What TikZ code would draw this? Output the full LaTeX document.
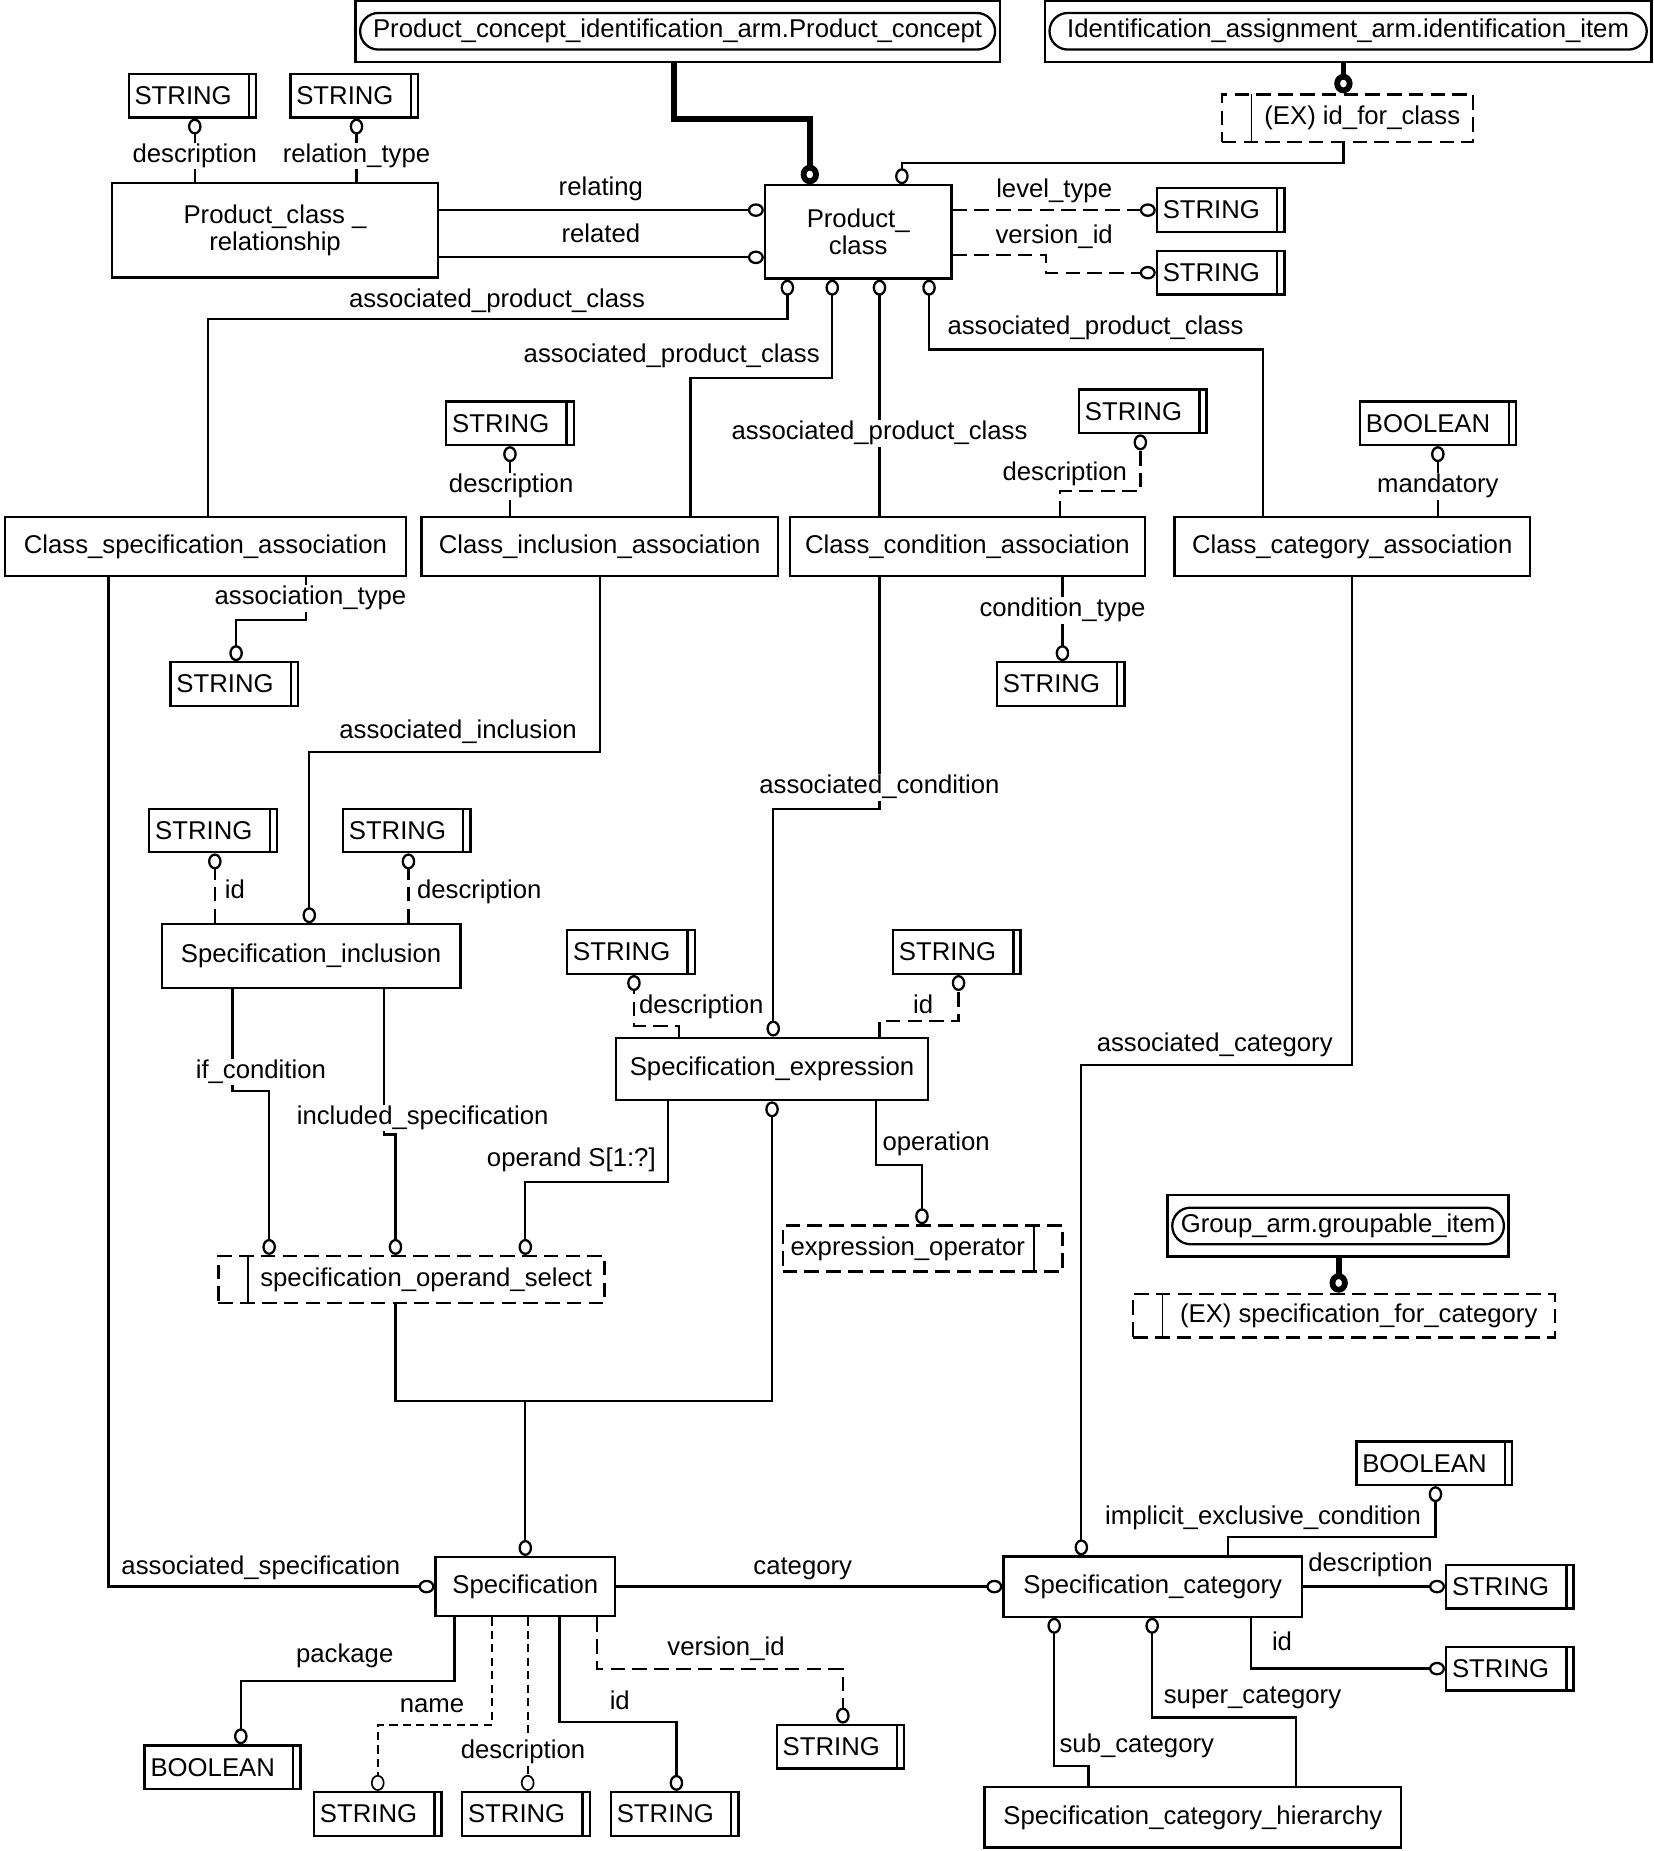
\documentclass[tikz,border=0pt]{standalone}
\usepackage{fontspec}
\setmainfont{Liberation Sans}
\usepackage{tikz}
\usetikzlibrary{arrows.meta, fit}

\begin{document}
\begin{tikzpicture}[x=0.02cm, y=-0.02cm,
    every node/.style={font=\fontsize{12.4}{13.2}\selectfont},
    entity/.style={draw, line width=1.1pt, align=center, inner sep=2pt},
    strbox/.style={draw, line width=1.1pt, minimum height=0.74cm, inner xsep=0.1cm, text width=1.96cm, align=left,
        path picture={\draw[line width=1.1pt] ([xshift=-0.12cm]path picture bounding box.north east) -- ([xshift=-0.12cm]path picture bounding box.south east);}},
    boolbox/.style={strbox, text width=2.44cm},
    selbox/.style={draw, line width=1.1pt, dash pattern=on 7pt off 3.5pt, minimum height=0.8cm, inner sep=2pt},
    selleft/.style={selbox,
        path picture={\draw[solid, line width=0.6pt] ([xshift=0.5cm]path picture bounding box.north west) -- ([xshift=0.5cm]path picture bounding box.south west);}},
    selright/.style={selbox,
        path picture={\draw[solid, line width=0.6pt] ([xshift=-0.48cm]path picture bounding box.north east) -- ([xshift=-0.48cm]path picture bounding box.south east);}},
    pill/.style={draw, line width=1.1pt, rounded corners=0.31cm, minimum height=0.62cm, inner sep=1pt},
    pillframe/.style={draw, line width=1.1pt, inner xsep=0.06cm, inner ysep=0.19cm},
    lbl/.style={fill=white, inner sep=0.5pt, text height=9pt, text depth=2.8pt},
    rel/.style={line width=1.1pt},
    optrel/.style={line width=1.1pt, dash pattern=on 7pt off 3.5pt},
    thinopt/.style={line width=0.8pt, dash pattern=on 4pt off 2.5pt},
    tipo/.style={-{Circle[length=2.7mm, width=2.3mm, fill=white]}},
    supline/.style={line width=2.8pt, -{Circle[length=3.3mm, width=3.1mm, fill=white]}}]

    \useasboundingbox (0,0) rectangle (1401,1568);

    \node[pill, minimum width=10.76cm] (pci) at (574,26.5) {Product\_concept\_identification\_arm.Product\_concept};
    \node[pillframe, fit=(pci)] (pcifr) {};
    \node[pill, minimum width=10.12cm] (iaa) at (1142,26.5) {Identification\_assignment\_arm.identification\_item};
    \node[pillframe, fit=(iaa)] (iaafr) {};
    \node[selleft, minimum width=4.26cm] (idfc) at (1141.5,100) {\hspace*{0.5cm}(EX) id\_for\_class};

    \node[entity, minimum width=3.16cm, minimum height=1.58cm] (pc) at (727,196.5) {Product\_\\class};
    \node[entity, minimum width=5.52cm, minimum height=1.6cm] (pcr) at (233,195) {Product\_class \_\\relationship};
    \node[strbox] (pcrdesc) at (163,81) {STRING};
    \node[strbox] (pcrtype) at (300,81) {STRING};
    \node[strbox] (pclevel) at (1034,178) {STRING};
    \node[strbox] (pcver) at (1034,231) {STRING};

    \node[entity, minimum width=6.8cm, minimum height=1cm] (csa) at (174,463) {Class\_specification\_association};
    \node[entity, minimum width=6.04cm, minimum height=1cm] (cia) at (508,463) {Class\_inclusion\_association};
    \node[entity, minimum width=6.02cm, minimum height=1cm] (ccona) at (819.5,463) {Class\_condition\_association};
    \node[entity, minimum width=6.02cm, minimum height=1cm] (ccata) at (1145.5,463) {Class\_category\_association};
    \node[strbox] (ciadesc) at (432,358.5) {STRING};
    \node[strbox] (ccondesc) at (968,348.5) {STRING};
    \node[boolbox] (ccatmand) at (1218,358.5) {BOOLEAN};
    \node[strbox] (csatype) at (198.5,579.5) {STRING};
    \node[strbox] (ccontype) at (898.5,579.5) {STRING};

    \node[entity, minimum width=5.06cm, minimum height=1.08cm] (si) at (263.5,810) {Specification\_inclusion};
    \node[strbox] (siid) at (180.5,703.5) {STRING};
    \node[strbox] (sidesc) at (344.5,703.5) {STRING};
    \node[entity, minimum width=5.28cm, minimum height=1.06cm] (se) at (654,905.5) {Specification\_expression};
    \node[strbox] (sedesc) at (534.5,806.5) {STRING};
    \node[strbox] (seid) at (810.5,806.5) {STRING};

    \node[selleft, minimum width=6.54cm] (sos) at (348.5,1084) {\hspace*{0.5cm}specification\_operand\_select};
    \node[selright, minimum width=4.74cm, minimum height=0.78cm] (eo) at (781.5,1057.5) {expression\_operator\hspace*{0.5cm}};
    \node[pill, minimum width=5.62cm] (gai) at (1133.5,1038.5) {Group\_arm.groupable\_item};
    \node[pillframe, fit=(gai)] (gaifr) {};
    \node[selleft, minimum width=7.14cm, minimum height=0.74cm] (sfc) at (1138.5,1114.5) {\hspace*{0.5cm}(EX) specification\_for\_category};

    \node[entity, minimum width=3.04cm, minimum height=1cm] (spec) at (445,1344) {Specification};
    \node[entity, minimum width=5.06cm, minimum height=1.02cm] (sc) at (976.5,1344) {Specification\_category};
    \node[entity, minimum width=7.06cm, minimum height=1.02cm] (sch) at (1010.5,1539.5) {Specification\_category\_hierarchy};
    \node[boolbox] (specpack) at (188.5,1497) {BOOLEAN};
    \node[strbox] (specname) at (320,1536.5) {STRING};
    \node[strbox] (specdesc) at (445.5,1536.5) {STRING};
    \node[strbox] (specid) at (571.5,1536.5) {STRING};
    \node[strbox] (specver) at (712,1479.5) {STRING};
    \node[boolbox] (scimpl) at (1215,1239.5) {BOOLEAN};
    \node[strbox] (scdesc) at (1279,1344) {STRING};
    \node[strbox] (scid) at (1279,1413.5) {STRING};

    \coordinate (optree) at (445,1187);

    \draw[supline] (pcifr.south -| 571,0) |- (686,101) -- (pc.north -| 686,0);
    \draw[supline] (iaafr.south -| 1138,0) -- (idfc.north -| 1138,0);
    \draw[supline] (gaifr.south -| 1134,0) -- (sfc.north -| 1134,0);
    \draw[rel, tipo] (idfc.south -| 1138,0) |- (764,138) -- (pc.north -| 764,0);

    \draw[rel, tipo] (pcr.north -| 165,0) -- (pcrdesc.south -| 165,0);
    \draw[rel, tipo] (pcr.north -| 302,0) -- (pcrtype.south -| 302,0);
    \draw[rel, tipo] (pcr.east |- 0,178) -- (pc.west |- 0,178);
    \draw[rel, tipo] (pcr.east |- 0,218) -- (pc.west |- 0,218);
    \draw[optrel, tipo] (pc.east |- 0,178) -- (pclevel.west);
    \draw[optrel, tipo] (pc.east |- 0,216) -- (886,216) |- (pcver.west);

    \draw[rel, tipo] (csa.north -| 176,0) |- (667,270) -- (pc.south -| 667,0);
    \draw[rel, tipo] (cia.north -| 585,0) |- (705,320) -- (pc.south -| 705,0);
    \draw[rel, tipo] (ccona.north -| 745,0) -- (pc.south -| 745,0);
    \draw[rel, tipo] (ccata.north -| 1070,0) |- (787,296) -- (pc.south -| 787,0);

    \draw[rel, tipo] (cia.north -| 432,0) -- (ciadesc.south -| 432,0);
    \draw[optrel, tipo] (ccona.north -| 898,0) |- (966,416) -- (ccondesc.south -| 966,0);
    \draw[rel, tipo] (ccata.north -| 1218,0) -- (ccatmand.south);
    \draw[rel, tipo] (csa.south -| 259,0) |- (200,525) -- (csatype.north -| 200,0);
    \draw[rel, tipo] (ccona.south -| 900,0) -- (ccontype.north -| 900,0);

    \draw[rel, tipo] (csa.south -| 92,0) |- (spec.west);
    \draw[rel, tipo] (cia.south -| 508,0) |- (262,637) -- (si.north -| 262,0);
    \draw[rel, tipo] (ccona.south -| 745,0) |- (655,685) -- (se.north -| 655,0);
    \draw[rel, tipo] (ccata.south -| 1145,0) |- (916,902) -- (sc.north -| 916,0);

    \draw[optrel, tipo] (si.north -| 182,0) -- (siid.south -| 182,0);
    \draw[optrel, tipo] (si.north -| 346,0) -- (sidesc.south -| 346,0);
    \draw[rel, tipo] (si.south -| 197,0) |- (228,924) -- (sos.north -| 228,0);
    \draw[rel, tipo] (si.south -| 325,0) |- (335,961) -- (sos.north -| 335,0);
    \draw[rel, tipo] (se.south -| 566,0) |- (445,1001) -- (sos.north -| 445,0);
    \draw[optrel, tipo] (se.north -| 575,0) |- (537,869) -- (sedesc.south -| 537,0);
    \draw[optrel, tipo] (se.north -| 745,0) |- (812,865) -- (seid.south -| 812,0);
    \draw[rel, tipo] (se.south -| 742,0) |- (781,987) -- (eo.north -| 781,0);

    \draw[rel, tipo] (sos.south -| 335,0) |- (654,1187) -- (se.south -| 654,0);
    \draw[rel, tipo] (optree) -- (spec.north -| 445,0);

    \draw[rel, tipo] (spec.east) -- (sc.west);
    \draw[rel, tipo] (spec.south -| 385,0) |- (204,1424) -- (specpack.north -| 204,0);
    \draw[thinopt, tipo] (spec.south -| 417,0) |- (320,1461) -- (specname.north);
    \draw[thinopt, tipo] (spec.south -| 447,0) -- (specdesc.north -| 447,0);
    \draw[rel, tipo] (spec.south -| 474,0) |- (573,1459) -- (specid.north -| 573,0);
    \draw[optrel, tipo] (spec.south -| 506,0) |- (714,1414) -- (specver.north -| 714,0);

    \draw[rel, tipo] (sc.north -| 1040,0) |- (1216,1302) -- (scimpl.south -| 1216,0);
    \draw[rel, tipo] (sc.east) -- (scdesc.west);
    \draw[rel, tipo] (sc.south -| 1060,0) |- (scid.west);
    \draw[rel, tipo] (sch.north -| 922,0) |- (893,1496) -- (sc.south -| 893,0);
    \draw[rel, tipo] (sch.north -| 1098,0) |- (976,1455) -- (sc.south -| 976,0);

    \node[lbl] (l-pcrdesc) at (165,132) {description};
    \node[lbl] (l-pcrtype) at (302,132) {relation\_type};
    \node[lbl] (l-relating) at (509,160) {relating};
    \node[lbl] (l-related) at (509,200) {related};
    \node[lbl] (l-level) at (893,162) {level\_type};
    \node[lbl] (l-pcver) at (893,201) {version\_id};
    \node[lbl] (l-apc1) at (421,255) {associated\_product\_class};
    \node[lbl] (l-apc2) at (569,302) {associated\_product\_class};
    \node[lbl] (l-apc3) at (745,367) {associated\_product\_class};
    \node[lbl] (l-apc4) at (928,278) {associated\_product\_class};
    \node[lbl] (l-ciadesc) at (433,412) {description};
    \node[lbl] (l-ccondesc) at (902,402) {description};
    \node[lbl] (l-mand) at (1218,412) {mandatory};
    \node[lbl] (l-atype) at (263,507) {association\_type};
    \node[lbl] (l-ctype) at (900,517) {condition\_type};
    \node[lbl] (l-ainc) at (388,620) {associated\_inclusion};
    \node[lbl] (l-acond) at (745,667) {associated\_condition};
    \node[lbl] (l-siid) at (199,756) {id};
    \node[lbl] (l-sidesc) at (406,756) {description};
    \node[lbl] (l-sedesc) at (594,853) {description};
    \node[lbl] (l-seid) at (782,853) {id};
    \node[lbl] (l-acat) at (1029,885) {associated\_category};
    \node[lbl] (l-ifc) at (221,908) {if\_condition};
    \node[lbl] (l-incl) at (358,947) {included\_specification};
    \node[lbl] (l-oper) at (793,969) {operation};
    \node[lbl] (l-operand) at (484,983) {operand S[1:?]};
    \node[lbl] (l-iec) at (1070,1286) {implicit\_exclusive\_condition};
    \node[lbl] (l-aspec) at (221,1328) {associated\_specification};
    \node[lbl] (l-cat) at (680,1328) {category};
    \node[lbl] (l-scdesc) at (1161,1326) {description};
    \node[lbl] (l-scid) at (1086,1393) {id};
    \node[lbl] (l-pack) at (292,1403) {package};
    \node[lbl] (l-specver) at (615,1397) {version\_id};
    \node[lbl] (l-super) at (1061,1438) {super\_category};
    \node[lbl] (l-name) at (366,1445) {name};
    \node[lbl] (l-specid) at (525,1443) {id};
    \node[lbl] (l-sub) at (963,1479) {sub\_category};
    \node[lbl] (l-specdesc) at (443,1484) {description};
\end{tikzpicture}
\end{document}
